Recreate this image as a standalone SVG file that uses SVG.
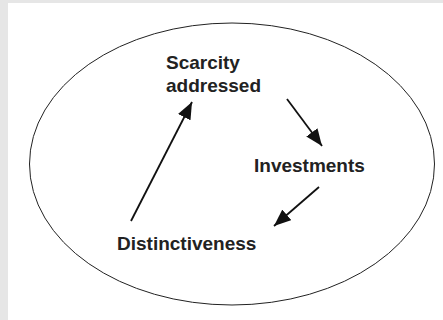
<svg xmlns="http://www.w3.org/2000/svg" width="443" height="320" viewBox="0 0 443 320">
<style>
.lbl{font-family:"Liberation Sans",Arial,sans-serif;font-weight:bold;font-size:19px;fill:#222}
.conn{stroke:#111;stroke-width:1.8;fill:none;marker-end:url(#ah)}
</style>
<defs>
<marker id="ah" markerUnits="userSpaceOnUse" markerWidth="18" markerHeight="14" refX="17" refY="7" orient="auto">
<path d="M0,0 L17,7 L0,14 Z" fill="#111"/>
</marker>
</defs>
<rect width="443" height="320" fill="#e6e6e6"/>
<rect x="8" y="3" width="435" height="317" fill="#fff"/>
<g id="boundary"><ellipse cx="232" cy="164" rx="202.5" ry="141" fill="none" stroke="#222" stroke-width="1"/></g>
<g id="scarcity"><text class="lbl" x="166" y="69">Scarcity</text><text class="lbl" x="166" y="92">addressed</text></g>
<g id="investments"><text class="lbl" x="254" y="172">Investments</text></g>
<g id="distinctiveness"><text class="lbl" x="117" y="250">Distinctiveness</text></g>
<g id="connectors">
<line class="conn" x1="131" y1="221" x2="192" y2="102"/>
<line class="conn" x1="287" y1="99" x2="322" y2="146"/>
<line class="conn" x1="319" y1="187" x2="274" y2="226"/>
</g>
</svg>
